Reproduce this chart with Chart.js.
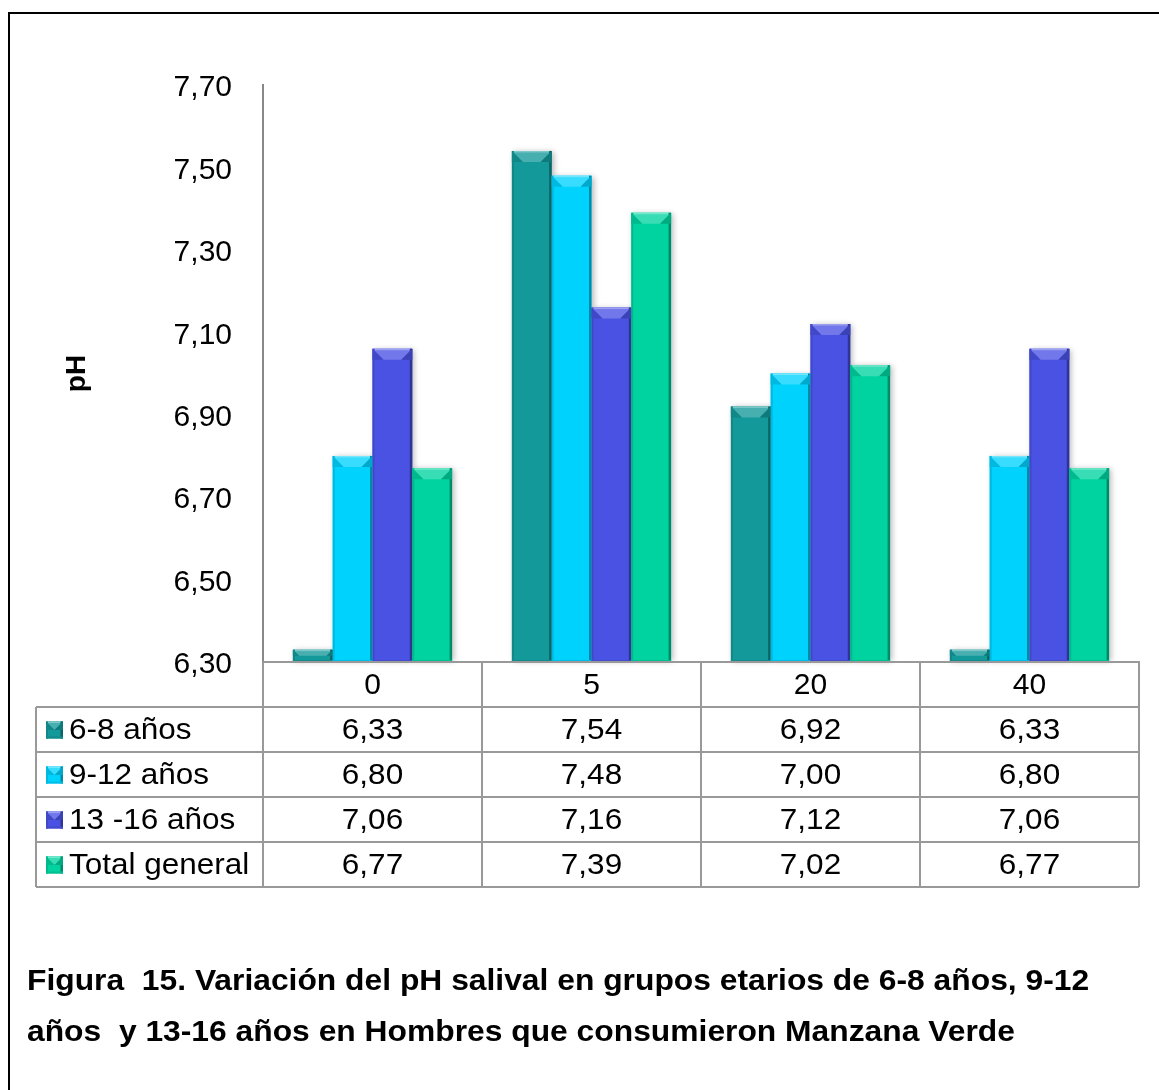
<!DOCTYPE html>
<html lang="es">
<head>
<meta charset="utf-8">
<title>Figura 15 - pH salival</title>
<script src="https://cdn.jsdelivr.net/npm/chart.js@4.4.1/dist/chart.umd.min.js"></script>
<style>
  html, body { margin: 0; padding: 0; background: #fff; }
  #wrap { position: relative; width: 1159px; height: 1090px; overflow: hidden; }
  #marco { position: absolute; left: 8px; top: 12px; width: 1200px; height: 1200px;
           border-left: 2px solid #000; border-top: 2px solid #000; }
  canvas { position: absolute; left: 0; top: 0; }
  .pie { position: absolute; left: 27px; font: bold 30px "Liberation Sans", Arial, sans-serif;
         color: #000; white-space: pre; line-height: 30px;
         transform: scaleX(1.06); transform-origin: 0 0; }
</style>
</head>
<body>
<div id="wrap">
  <div id="marco"></div>
  <canvas id="grafico" width="1159" height="1090"></canvas>
  <div class="pie" style="top:965px">Figura  15. Variación del pH salival en grupos etarios de 6-8 años, 9-12</div>
  <div class="pie" style="top:1016px">años  y 13-16 años en Hombres que consumieron Manzana Verde</div>
</div>
<script>
// Datos
const categorias = ['0', '5', '20', '40'];
const grupos = ['6-8 años', '9-12 años', '13 -16 años', 'Total general'];
const ph6a8 = [6.33, 7.54, 6.92, 6.33];
const ph9a12 = [6.80, 7.48, 7.00, 6.80];
const ph13a16 = [7.06, 7.16, 7.12, 7.06];
const phTotal = [6.77, 7.39, 7.02, 6.77];
const yTicks = ['6,30', '6,50', '6,70', '6,90', '7,10', '7,30', '7,50', '7,70'];
const colores = ['#13999a', '#00d2fe', '#4a52e3', '#00d3a0'];

const FUENTE = '"Liberation Sans", Arial, sans-serif';

// aclarar / oscurecer un color hex
function tono(hex, f) {
  const n = parseInt(hex.slice(1), 16);
  let r = n >> 16, g = (n >> 8) & 255, b = n & 255;
  if (f > 0) { r += (255 - r) * f; g += (255 - g) * f; b += (255 - b) * f; }
  else { r *= 1 + f; g *= 1 + f; b *= 1 + f; }
  return `rgb(${Math.round(r)},${Math.round(g)},${Math.round(b)})`;
}

// efecto bisel de las barras de Excel
function bisel(ctx, x0, y0, x1, y1, color) {
  const w = x1 - x0, h = y1 - y0;
  const d = Math.min(11, h / 2, w / 2);
  ctx.save();
  ctx.fillStyle = tono(color, 0.22);
  ctx.beginPath();
  ctx.moveTo(x0, y0); ctx.lineTo(x1, y0); ctx.lineTo(x1 - d, y0 + d); ctx.lineTo(x0 + d, y0 + d);
  ctx.closePath(); ctx.fill();
  ctx.fillStyle = tono(color, 0.45);
  ctx.fillRect(x0 + 1, y0, w - 2, 1.5);
  ctx.fillStyle = tono(color, -0.12);
  ctx.beginPath();
  ctx.moveTo(x0, y0); ctx.lineTo(x0 + d, y0 + d); ctx.lineTo(x0 + 2, y0 + d); ctx.lineTo(x0, y0 + d);
  ctx.closePath(); ctx.fill();
  ctx.fillRect(x0, y0, 2, h);
  ctx.fillStyle = tono(color, -0.35);
  ctx.fillRect(x1 - 2.5, y0, 2.5, h);
  ctx.fillStyle = tono(color, -0.2);
  ctx.beginPath();
  ctx.moveTo(x1, y0); ctx.lineTo(x1 - d, y0 + d); ctx.lineTo(x1 - 2.5, y0 + d); ctx.lineTo(x1, y0 + d);
  ctx.closePath(); ctx.fill();
  ctx.fillStyle = tono(color, -0.1);
  ctx.fillRect(x0, y1 - 2, w, 2);
  ctx.restore();
}

function rectBarra(chart, bar) {
  const p = bar.getProps(['x', 'y', 'base', 'width'], true);
  const fondo = Math.min(p.base, chart.chartArea.bottom);
  return { x0: p.x - p.width / 2, x1: p.x + p.width / 2, y0: p.y, y1: fondo };
}

const biselPlugin = {
  id: 'bisel',
  beforeDatasetsDraw(chart) {
    const ctx = chart.ctx;
    ctx.save();
    ctx.shadowColor = 'rgba(0,0,0,0.28)';
    ctx.shadowBlur = 6;
    ctx.shadowOffsetX = 2;
    ctx.shadowOffsetY = 1;
    ctx.fillStyle = '#fff';
    chart.data.datasets.forEach((ds, i) => {
      chart.getDatasetMeta(i).data.forEach(bar => {
        const r = rectBarra(chart, bar);
        ctx.fillRect(r.x0, r.y0, r.x1 - r.x0, r.y1 - r.y0 - 2);
      });
    });
    ctx.restore();
  },
  afterDatasetsDraw(chart) {
    const ctx = chart.ctx;
    chart.data.datasets.forEach((ds, i) => {
      chart.getDatasetMeta(i).data.forEach(bar => {
        const r = rectBarra(chart, bar);
        bisel(ctx, r.x0, r.y0, r.x1, r.y1, ds.backgroundColor);
      });
    });
  }
};

// texto algo ensanchado, como en el original
function texto(ctx, s, x, y, align) {
  ctx.save();
  ctx.translate(x, y);
  ctx.scale(1.05, 1);
  ctx.textAlign = align;
  ctx.fillText(s, 0, 0);
  ctx.restore();
}

// tabla de datos bajo el eje x
const tablaPlugin = {
  id: 'tabla',
  afterDraw(chart) {
    const { ctx, chartArea: a, scales: { x } } = chart;
    const filas = [ph6a8, ph9a12, ph13a16, phTotal];
    const altoFila = 45;
    const arriba = a.bottom + altoFila;
    const abajo = arriba + altoFila * filas.length;
    const izq = 36;
    const anchoCol = (a.right - a.left) / categorias.length;

    ctx.save();
    ctx.strokeStyle = '#999';
    ctx.lineWidth = 2;
    ctx.beginPath();
    ctx.moveTo(a.left, a.bottom); ctx.lineTo(a.right, a.bottom);
    for (let i = 0; i <= filas.length; i++) {
      ctx.moveTo(izq, arriba + i * altoFila); ctx.lineTo(a.right, arriba + i * altoFila);
    }
    ctx.moveTo(izq, arriba); ctx.lineTo(izq, abajo);
    for (let c = 0; c <= categorias.length; c++) {
      const xc = a.left + c * anchoCol;
      ctx.moveTo(xc, a.bottom); ctx.lineTo(xc, abajo);
    }
    ctx.stroke();

    ctx.fillStyle = '#000';
    ctx.font = '30px ' + FUENTE;
    ctx.textBaseline = 'middle';
    filas.forEach((vals, r) => {
      const yc = arriba + r * altoFila + altoFila / 2;
      ctx.save();
      ctx.fillStyle = colores[r];
      ctx.fillRect(46, yc - 8, 17, 17);
      ctx.restore();
      bisel(ctx, 46, yc - 8, 63, yc + 9, colores[r]);
      texto(ctx, grupos[r], 69, yc + 1, 'left');
      vals.forEach((v, c) => {
        texto(ctx, v.toFixed(2).replace('.', ','), x.getPixelForValue(c), yc + 1, 'center');
      });
    });
    ctx.restore();
  }
};

const conjuntos = [ph6a8, ph9a12, ph13a16, phTotal].map((vals, i) => ({
  label: grupos[i],
  data: vals,
  backgroundColor: colores[i],
  borderWidth: 0,
  categoryPercentage: 0.727,
  barPercentage: 1
}));

new Chart(document.getElementById('grafico'), {
  type: 'bar',
  data: { labels: categorias, datasets: conjuntos },
  options: {
    responsive: false,
    animation: false,
    devicePixelRatio: 1,
    layout: { padding: { top: 85, right: 20, left: 0, bottom: 0 } },
    plugins: { legend: { display: false }, tooltip: { enabled: false } },
    scales: {
      x: {
        grid: { display: false },
        border: { display: true, color: '#999', width: 2 },
        ticks: { color: '#000', font: { family: FUENTE, size: 30 }, padding: -2 },
        afterFit: s => { s.height = 1090 - 662; }
      },
      y: {
        min: 6.3,
        max: 7.7,
        grid: { display: false, drawTicks: false },
        border: { display: true, color: '#888', width: 2 },
        ticks: {
          stepSize: 0.2,
          color: '#000',
          padding: 31,
          labelOffset: 3,
          font: { family: FUENTE, size: 30 },
          callback: (v, i) => yTicks[i]
        },
        title: {
          display: true,
          text: 'pH',
          color: '#000',
          font: { family: FUENTE, size: 28, weight: 'bold' },
          padding: { top: 60, bottom: 0 }
        },
        afterFit: s => { s.width = 263; }
      }
    }
  },
  plugins: [biselPlugin, tablaPlugin]
});
</script>
</body>
</html>
